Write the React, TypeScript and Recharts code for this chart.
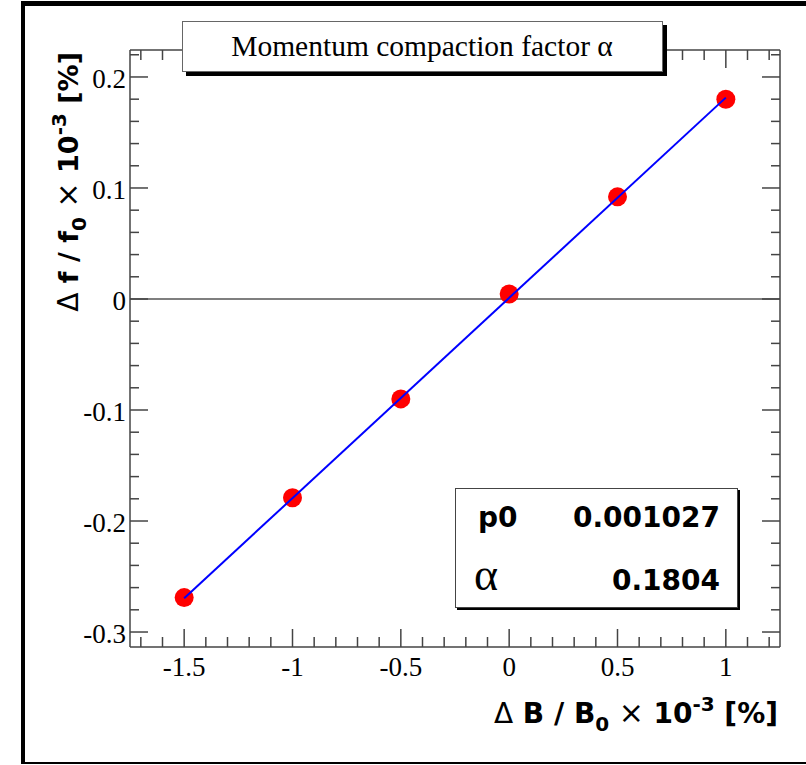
import { ComposedChart, Scatter, XAxis, YAxis, ReferenceLine } from 'recharts';

// measured points
const xValues = [-1.5, -1, -0.5, 0, 0.5, 1];
const yValues = [-0.269, -0.179, -0.09, 0.0045, 0.092, 0.18];

// fit line end points (p0 + alpha * x)
const fitX = [-1.5, 1];
const fitY = [-0.2696, 0.1814];

const xMajorTicks = [-1.5, -1, -0.5, 0, 0.5, 1];
const yMajorTicks = [-0.3, -0.2, -0.1, 0, 0.1, 0.2];

const X_DOMAIN: [number, number] = [-1.75, 1.25];
const Y_DOMAIN: [number, number] = [-0.3135, 0.2243];

const titleText = 'Momentum compaction factor α';
const statNames = ['p0', 'α'];
const statValues = ['0.001027', '0.1804'];

// minor ticks every 0.1 on x and 0.02 on y
const xAllTicks: number[] = [];
for (let i = -17; i <= 12; i++) xAllTicks.push(Math.round(i) / 10);
const yAllTicks: number[] = [];
for (let i = -15; i <= 11; i++) yAllTicks.push(Math.round(i * 2) / 100);

const points = xValues.map((x, i) => ({ x, y: yValues[i] }));
const fitData = fitX.map((x, i) => ({ x, y: fitY[i] }));

const W = 806;
const H = 765;
// plot area: x 130..780, y 50..647
const M = { top: 40, right: 16, bottom: 60, left: 70 };

const SERIF = '"Liberation Serif", "Times New Roman", serif';
const SANS = '"DejaVu Sans", "Liberation Sans", sans-serif';
const AXIS = '#444';

const BottomTick = (p: any) => {
    const v = p.payload.value;
    const major = xMajorTicks.includes(v);
    return (
        <g>
            <line x1={p.x} x2={p.x} y1={p.y} y2={p.y - (major ? 18 : 10)} stroke={AXIS} strokeWidth={1.5} />
            {major && (
                <text x={p.x} y={p.y + 29} textAnchor="middle" fontFamily={SERIF} fontSize={27} fill="#000">
                    {String(v)}
                </text>
            )}
        </g>
    );
};

const TopTick = (p: any) => {
    const major = xMajorTicks.includes(p.payload.value);
    return <line x1={p.x} x2={p.x} y1={p.y} y2={p.y + (major ? 18 : 10)} stroke={AXIS} strokeWidth={1.5} />;
};

const LeftTick = (p: any) => {
    const v = p.payload.value;
    const major = yMajorTicks.includes(v);
    return (
        <g>
            <line x1={p.x} x2={p.x + (major ? 18 : 9)} y1={p.y} y2={p.y} stroke={AXIS} strokeWidth={1.5} />
            {major && (
                <text x={p.x - 4} y={p.y + 11} textAnchor="end" fontFamily={SERIF} fontSize={27} fill="#000">
                    {String(v)}
                </text>
            )}
        </g>
    );
};

const RightTick = (p: any) => {
    const major = yMajorTicks.includes(p.payload.value);
    return <line x1={p.x} x2={p.x - (major ? 18 : 9)} y1={p.y} y2={p.y} stroke={AXIS} strokeWidth={1.5} />;
};

const Dot = (p: any) => <circle cx={p.cx} cy={p.cy} r={9.5} fill="#ff0000" />;
const NoDot = () => <g />;

const AxisTitle = ({ letter }: { letter: string }) => (
    <>
        <tspan fontFamily={SANS} fontWeight="normal" fontSize={28}>Δ</tspan>
        <tspan> {letter} / {letter}</tspan>
        <tspan fontSize={20} dy={8}>0</tspan>
        <tspan fontFamily={SANS} fontWeight="normal" fontSize={30} dy={-8}> × </tspan>
        <tspan>10</tspan>
        <tspan fontSize={20} dy={-12}>-3</tspan>
        <tspan dy={12}> [%]</tspan>
    </>
);

const Overlay = () => (
    <svg width={W} height={H} style={{ position: 'absolute', left: 0, top: 0, pointerEvents: 'none' }}>
        {/* canvas border */}
        <rect x={21} y={1} width={4} height={763} fill="#000" />
        <rect x={21} y={1} width={W - 21} height={5} fill="#000" />
        <rect x={21} y={762} width={W - 21} height={2} fill="#000" />

        {/* title box */}
        <rect x={186} y={25} width={481} height={51} fill="#000" />
        <rect x={182.5} y={21.5} width={480} height={50} fill="#fff" stroke="#666" strokeWidth={1} />
        <text x={422} y={56} textAnchor="middle" fontFamily={SERIF} fontSize={29.5} fill="#000">
            {titleText}
        </text>

        {/* fit statistics box */}
        <rect x={457} y={490} width={283} height={120} fill="#000" />
        <rect x={455.5} y={488.5} width={282} height={119} fill="#fff" stroke="#444" strokeWidth={1} />
        <text x={478} y={527} fontFamily={SANS} fontWeight="bold" fontSize={28} fill="#000">{statNames[0]}</text>
        <text x={720} y={527} textAnchor="end" fontFamily={SANS} fontWeight="bold" fontSize={28} fill="#000">{statValues[0]}</text>
        <text x={474} y={590} fontFamily={SERIF} fontSize={46} fill="#000">{statNames[1]}</text>
        <text x={720} y={590} textAnchor="end" fontFamily={SANS} fontWeight="bold" fontSize={28} fill="#000">{statValues[1]}</text>

        {/* x axis title */}
        <text x={778} y={723} textAnchor="end" fontFamily={SANS} fontWeight="bold" fontSize={28} fill="#000">
            <AxisTitle letter="B" />
        </text>

        {/* y axis title */}
        <text transform="translate(78, 52) rotate(-90)" textAnchor="end" fontFamily={SANS} fontWeight="bold" fontSize={27} fill="#000">
            <AxisTitle letter="f" />
        </text>
    </svg>
);

const App = () => (
    <div style={{ position: 'absolute', left: 0, top: 0, width: W, height: H, background: '#fff' }}>
        <ComposedChart width={W} height={H} margin={M}>
            <XAxis
                xAxisId="b" type="number" dataKey="x" domain={X_DOMAIN} allowDataOverflow
                ticks={xAllTicks} interval={0} height={58} tickSize={0} tickMargin={0} tickLine={false}
                axisLine={{ stroke: AXIS, strokeWidth: 1.5 }} tick={BottomTick}
            />
            <XAxis
                xAxisId="t" orientation="top" type="number" dataKey="x" domain={X_DOMAIN} allowDataOverflow
                ticks={xAllTicks} interval={0} height={10} tickSize={0} tickMargin={0} tickLine={false}
                axisLine={{ stroke: AXIS, strokeWidth: 1.5 }} tick={TopTick}
            />
            <YAxis
                yAxisId="l" type="number" dataKey="y" domain={Y_DOMAIN} allowDataOverflow
                ticks={yAllTicks} interval={0} width={60} tickSize={0} tickMargin={0} tickLine={false}
                axisLine={{ stroke: AXIS, strokeWidth: 1.5 }} tick={LeftTick}
            />
            <YAxis
                yAxisId="r" orientation="right" type="number" dataKey="y" domain={Y_DOMAIN} allowDataOverflow
                ticks={yAllTicks} interval={0} width={10} tickSize={0} tickMargin={0} tickLine={false}
                axisLine={{ stroke: AXIS, strokeWidth: 1.5 }} tick={RightTick}
            />
            <ReferenceLine xAxisId="b" yAxisId="l" y={0} stroke="#000" strokeWidth={1.2} />
            <Scatter xAxisId="b" yAxisId="l" data={points} shape={Dot} isAnimationActive={false} />
            <Scatter
                xAxisId="b" yAxisId="l" data={fitData} shape={NoDot} fill="#0000ff"
                line={{ stroke: '#0000ff', strokeWidth: 2 }} isAnimationActive={false}
            />
        </ComposedChart>
        <Overlay />
    </div>
);

export default App;
